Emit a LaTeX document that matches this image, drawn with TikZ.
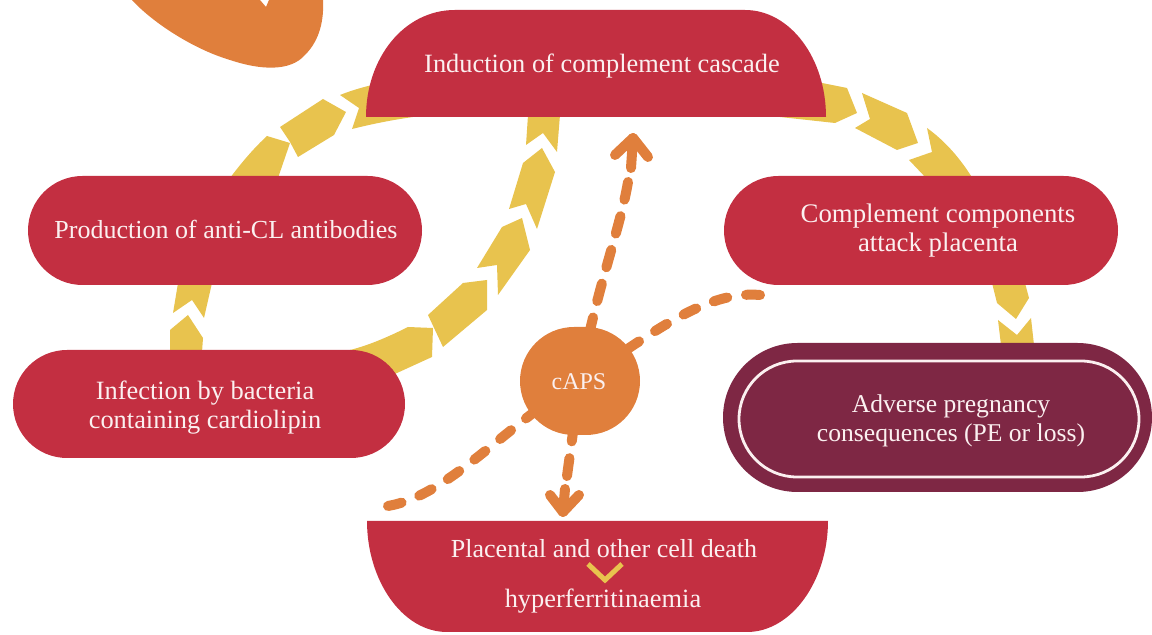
\documentclass[tikz,border=0pt]{standalone}
\usepackage{fontspec}
\setmainfont{Liberation Serif}
\usetikzlibrary{shapes.misc,shapes.geometric,arrows.meta}
\definecolor{crimson}{HTML}{C32F41}
\definecolor{plum}{HTML}{7E2744}
\definecolor{amber}{HTML}{E8C34E}
\definecolor{tangerine}{HTML}{E07F3C}
\definecolor{paletext}{HTML}{FBF0F0}
\tikzset{
  pill/.style={rounded rectangle,fill=crimson,inner sep=0pt},
  bandpiece/.style={fill=amber},
  caption/.style={text=paletext,font=\fontsize{13.2}{14.5}\selectfont,align=center,inner sep=0pt},
  dashlink/.style={draw=tangerine,line width=5pt,line cap=round,dash pattern=on 7pt off 9.5pt},
  longdash/.style={draw=tangerine,line width=5pt,line cap=round,dash pattern=on 9pt off 8.5pt},
  barbs/.style={draw=tangerine,line width=5pt,line cap=round,line join=round},
}
\begin{document}
\begin{tikzpicture}[x=0.5pt,y=-0.5pt]
\useasboundingbox (0,0) rectangle (1152,635);

% kidney-shaped organ cut off by the top edge
\fill[tangerine] (132,0) .. controls (150,20) and (190,48) .. (230,60)
  .. controls (260,70) and (290,72) .. (305,55)
  .. controls (320,40) and (324,20) .. (323,0) -- (269,0) -- (266,7) -- (260,0) -- cycle;

% left arc, rising from the infection box to the cascade
\fill[bandpiece] (170,330) -- (188,315) -- (203,338) -- (202,352) -- (170,352) -- cycle;
\fill[bandpiece] (178,283) -- (212,283) -- (204,318) -- (192,300) -- (173,313) -- cycle;
\fill[bandpiece] (230,178) .. controls (242,162) and (254,148) .. (267,136) -- (290,143) -- (278,178) -- cycle;
\fill[bandpiece] (280,127) -- (323,99) -- (346,112) -- (334,135) -- (298,157) -- (290,142) -- cycle;
\fill[bandpiece] (340,95) .. controls (350,91) and (360,88) .. (372,85) -- (372,117) -- (413,117) .. controls (392,120) and (372,124) .. (352,129) -- (359,108) -- cycle;

% central arc, from the infection box to the cascade
\fill[bandpiece] (350,350) .. controls (370,345) and (390,336) .. (408,327) -- (433,328) -- (432,357) -- (397,373) -- (370,385) -- cycle;
\fill[bandpiece] (428,315) -- (463,283) -- (487,280) -- (487,310) -- (443,347) -- (435,330) -- cycle;
\fill[bandpiece] (477,268) -- (502,227) -- (522,218) -- (530,250) -- (498,295) -- (497,265) -- cycle;
\fill[bandpiece] (523,163) -- (542,148) -- (555,172) -- (537,229) -- (526,204) -- (509,209) -- cycle;
\fill[bandpiece] (528,115) -- (560,115) -- (557,152) -- (543,133) -- (526,145) -- cycle;

% right arc, from the cascade down to the pregnancy outcome
\fill[bandpiece] (780,117) -- (822,83) -- (847,88) -- (857,113) -- (835,123) -- cycle;
\fill[bandpiece] (862,93) -- (907,113) -- (918,143) -- (897,150) -- (855,128) -- (870,119) -- cycle;
\fill[bandpiece] (927,128) .. controls (945,141) and (960,158) .. (973,179) -- (927,179) -- (909,160) -- (932,152) -- cycle;
\fill[bandpiece] (992,283) -- (1025,283) -- (1029,298) -- (1016,319) -- (997,303) -- cycle;
\fill[bandpiece] (998,320) -- (1017,335) -- (1031,318) -- (1034,345) -- (1001,345) -- cycle;

% process boxes
\path[fill=crimson] (366,117) .. controls (366,58) and (404,10) .. (455,10) -- (745,10)
  .. controls (790,10) and (826,58) .. (826,117) -- cycle;
\path[fill=crimson] (367,521) -- (828,521) .. controls (828,580) and (792,632) .. (747,632)
  -- (447,632) .. controls (402,632) and (367,580) .. (367,521) -- cycle;
\node[pill,minimum width=197pt,minimum height=54.5pt] (antibodies) at (225,230.5) {};
\node[pill,minimum width=196pt,minimum height=54pt] (infection) at (209,404) {};
\node[pill,minimum width=197pt,minimum height=54.5pt] (attack) at (921,230.5) {};
\node[rounded rectangle,fill=plum,minimum width=214.5pt,minimum height=74.5pt,inner sep=0pt] (outcome) at (937.5,417.5) {};
\node[rounded rectangle,fill=plum,draw=paletext,line width=1.4pt,minimum width=200pt,minimum height=58pt,inner sep=0pt] (outcomeinner) at (939,419) {};
\node[rectangle,rounded corners=27pt,fill=tangerine,minimum width=60pt,minimum height=54pt,inner sep=0pt] (caps) at (580,381) {};

% dashed links leaving cAPS, hidden where they cross its disc
\coordinate (upstart) at (628,182);
\coordinate (downstart) at (567,476);
\coordinate (rightend) at (760,295);
\coordinate (leftend) at (388,506);
\draw[longdash] (upstart) .. controls (620,230) and (593,300) .. (caps.center);
\draw[longdash] (downstart) -- (caps.center);
\draw[dashlink] (rightend) .. controls (705,290) and (650,335) .. (caps.center);
\draw[dashlink] (leftend) .. controls (450,495) and (505,425) .. (caps.center);

% arrowheads with their short stems
\coordinate (uptip) at (633,138);
\coordinate (upstem) at (631,168);
\coordinate (upbarbl) at (615,155);
\coordinate (upbarbr) at (648,157);
\coordinate (downtip) at (563,512);
\coordinate (downstem) at (565,489);
\coordinate (downbarbl) at (550,495);
\coordinate (downbarbr) at (579,495);
\draw[barbs] (upbarbl) -- (uptip) -- (upbarbr);
\draw[barbs] (upstem) -- (uptip);
\draw[barbs] (downbarbl) -- (downtip) -- (downbarbr);
\draw[barbs] (downstem) -- (downtip);

% captions
\node[caption] (tcascade) at (602,66) {Induction of complement cascade};
\node[caption,font=\fontsize{13}{14.5}\selectfont] (tanti) at (226,229) {Production of anti-CL antibodies};
\node[caption,font=\fontsize{13.4}{14.5}\selectfont] (tattack) at (938,231) {Complement components\\attack placenta};
\node[caption] (tinfect) at (205,408) {Infection by bacteria\\containing cardiolipin};
\node[caption,font=\fontsize{12}{14}\selectfont] (tcaps) at (579,382) {cAPS};
\node[caption,font=\fontsize{12.8}{14.5}\selectfont] (tadverse) at (951,421) {Adverse pregnancy\\consequences (PE or loss)};
\node[caption,font=\fontsize{13}{14.5}\selectfont] (tdeath) at (604,549) {Placental and other cell death};
\node[caption] (thyper) at (603,601) {hyperferritinaemia};

% small chevron between the two lines of the lower box
\coordinate (chevleft) at (588,564);
\coordinate (chevtip) at (605,580);
\coordinate (chevright) at (622,564);
\draw[amber,line width=2.5pt] (chevleft) -- (chevtip) -- (chevright);
\end{tikzpicture}
\end{document}
